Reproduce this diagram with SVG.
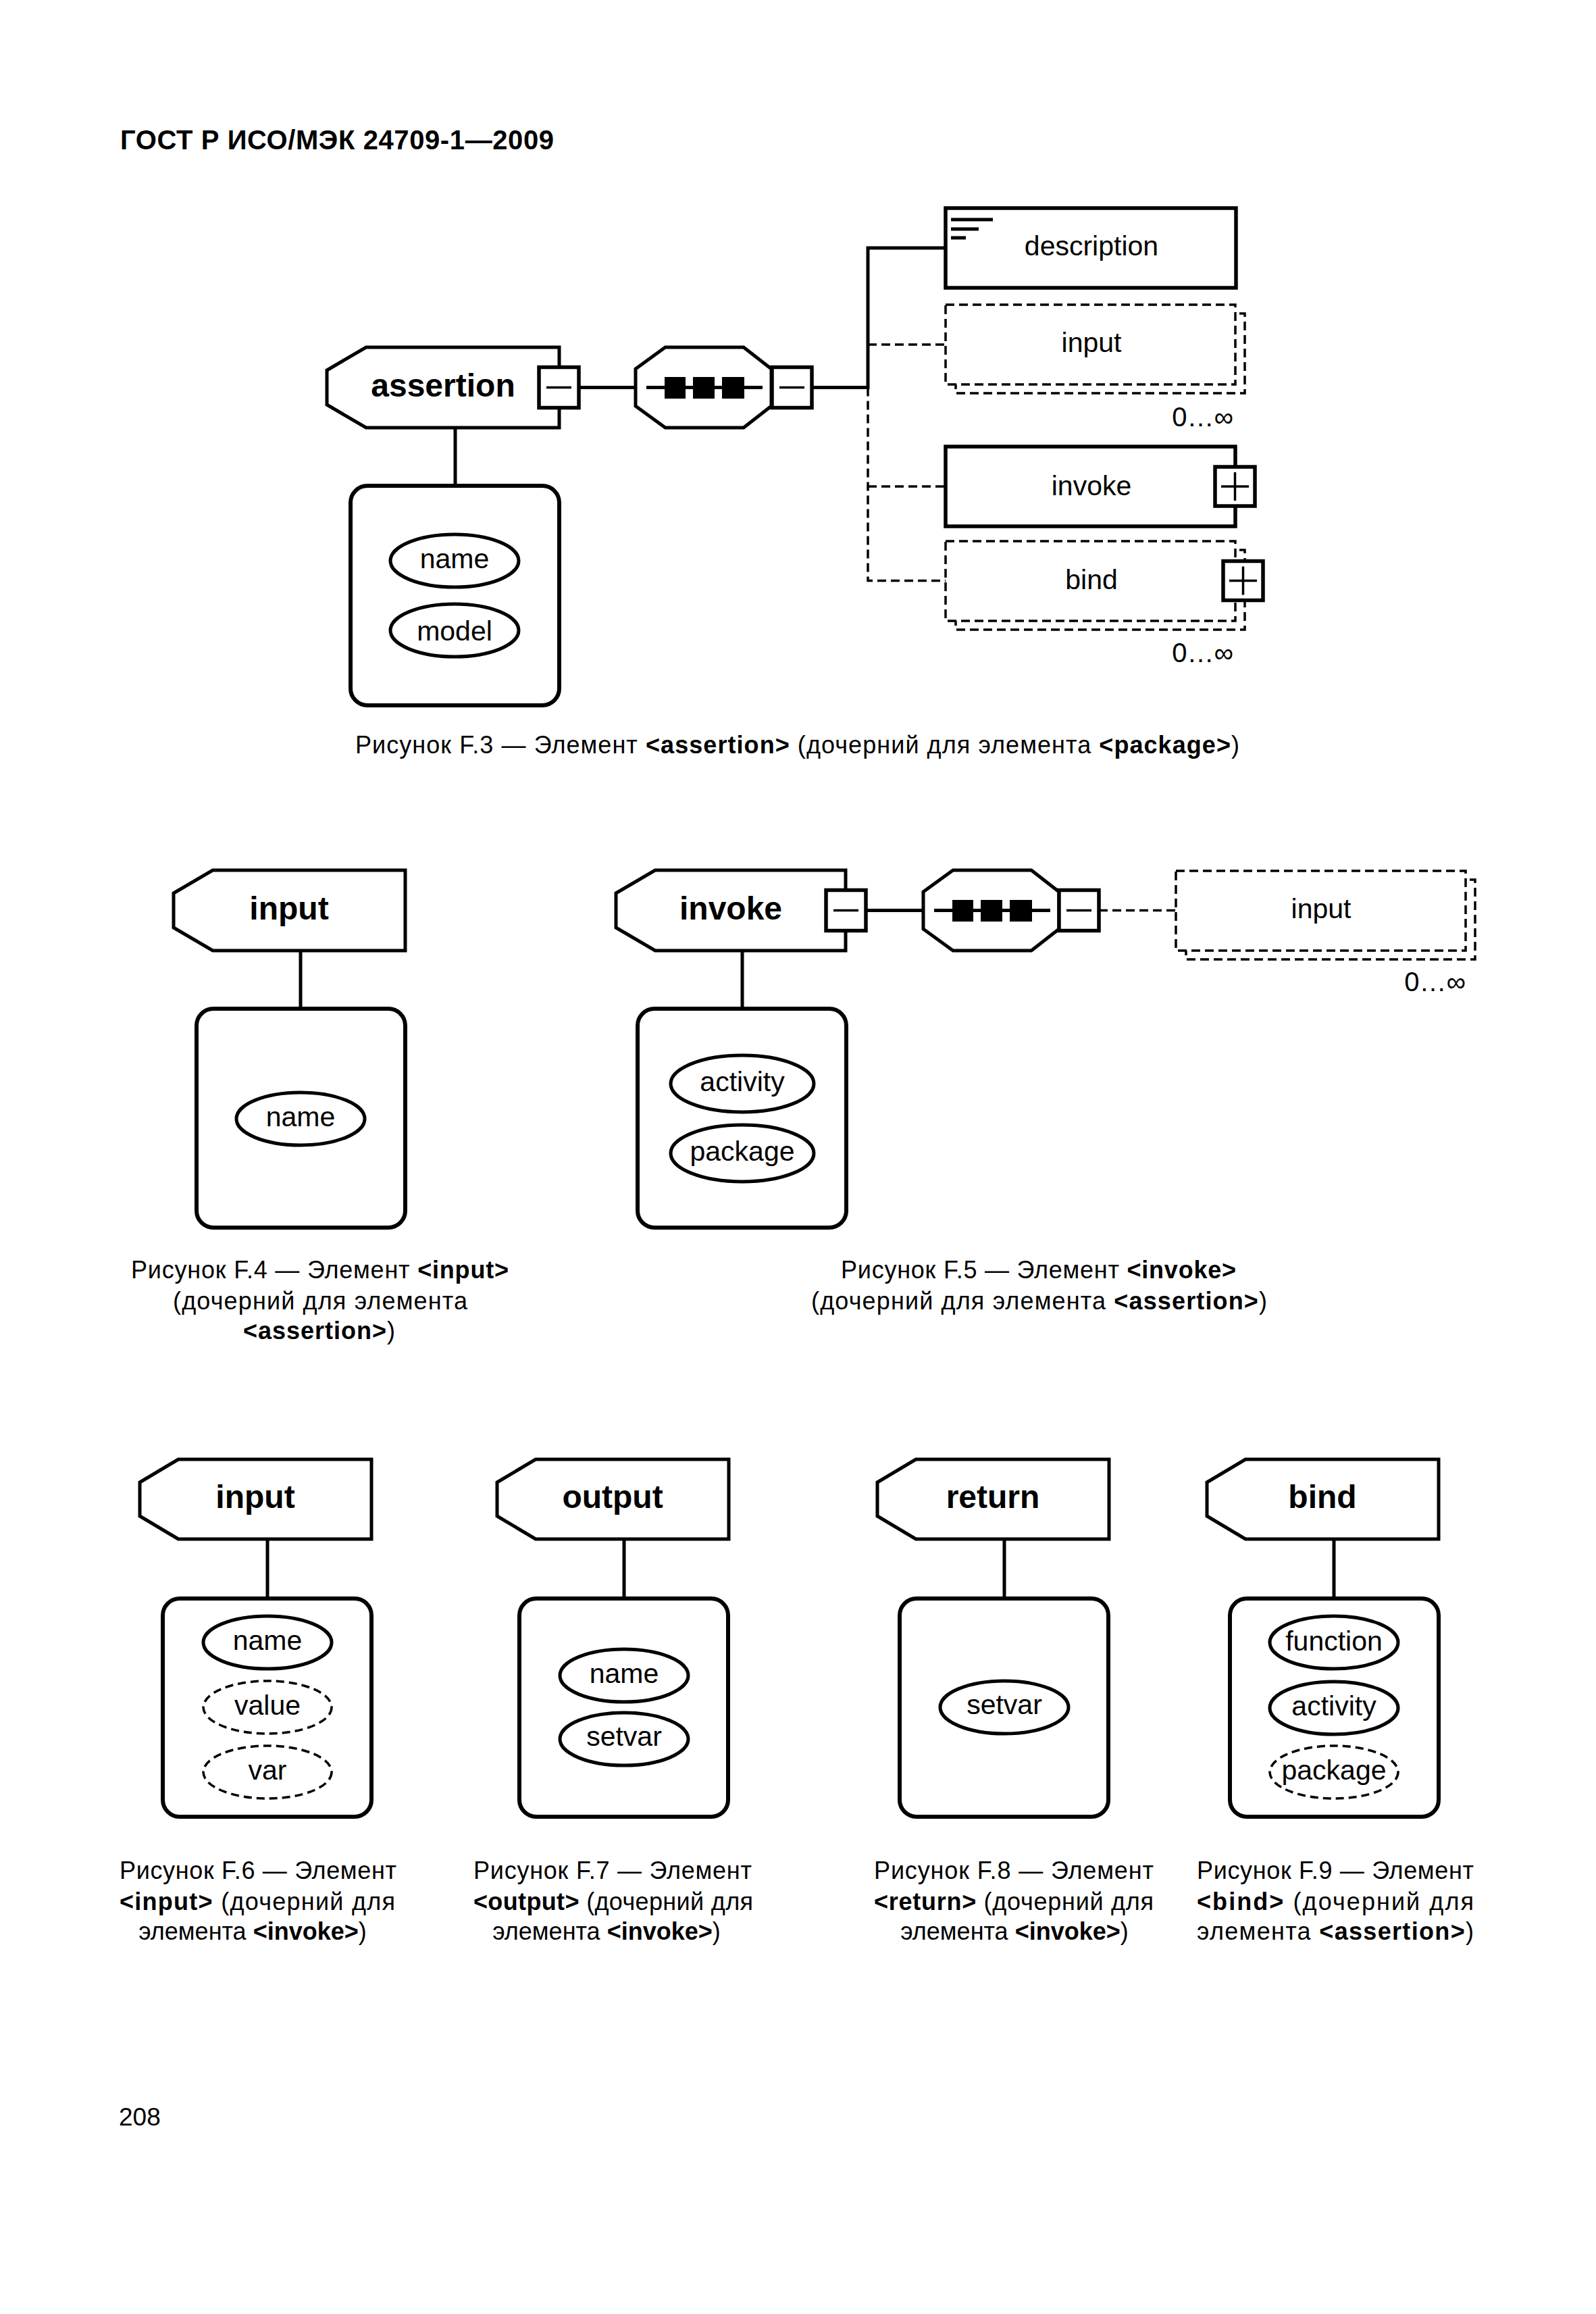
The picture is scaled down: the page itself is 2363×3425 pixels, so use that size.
<svg xmlns="http://www.w3.org/2000/svg" width="2363" height="3425" viewBox="0 0 2363 3425">
<style>
.hdr{fill:#fff;stroke:#000;stroke-width:5;stroke-linejoin:miter}
.rbox{fill:#fff;stroke:#000;stroke-width:6}
.ell{fill:#fff;stroke:#000;stroke-width:5}
.elld{fill:#fff;stroke:#000;stroke-width:3.5;stroke-dasharray:12 7}
.box{fill:#fff;stroke:#000;stroke-width:5.5}
.boxd{fill:#fff;stroke:#000;stroke-width:3.5;stroke-dasharray:13 7}
.ln{fill:none;stroke:#000;stroke-width:5}
.lnd{fill:none;stroke:#000;stroke-width:3.5;stroke-dasharray:13 7}
.thin{fill:none;stroke:#000;stroke-width:3.5}
text{font-family:"Liberation Sans",Arial,"DejaVu Sans",sans-serif;fill:#000}
.th{font-size:48px;font-weight:bold;text-anchor:middle}
.ta{font-size:41px;text-anchor:middle}
.tm{font-size:40px;text-anchor:end}
.tc{font-size:36px}
.b{font-weight:bold}
</style>
<defs>
<g id="oct">
<polygon class="hdr" points="44,0 160,0 201,32 201,87 160,119 44,119 0,87 0,32"/>
<line class="ln" x1="16" y1="59.5" x2="188" y2="59.5" stroke-width="4"/>
<rect x="43" y="44" width="31" height="32" fill="#000"/>
<rect x="85" y="44" width="32" height="32" fill="#000"/>
<rect x="128" y="44" width="33" height="32" fill="#000"/>
</g>
<g id="minus">
<rect class="box" x="0" y="0" width="59" height="60"/>
<line class="thin" x1="11" y1="30" x2="48" y2="30"/>
</g>
<g id="plus">
<rect class="box" x="0" y="0" width="59" height="58"/>
<line class="thin" x1="9" y1="29" x2="50" y2="29" stroke-width="4"/>
<line class="thin" x1="29.5" y1="8" x2="29.5" y2="50" stroke-width="4"/>
</g>
</defs>
<rect x="0" y="0" width="2363" height="3425" fill="#fff"/>

<text x="178" y="221" font-size="40" font-weight="bold" textLength="642">ГОСТ Р ИСО/МЭК 24709-1—2009</text>

<g id="connectors">
<line class="ln" x1="674" y1="633" x2="674" y2="719"/>
<line class="ln" x1="857" y1="573.5" x2="941" y2="573.5"/>
<line class="ln" x1="1202" y1="573.5" x2="1285" y2="573.5"/>
<polyline class="ln" points="1400,367 1285,367 1285,576"/>
<polyline class="lnd" points="1285,573.5 1285,859.5 1400,859.5"/>
<line class="lnd" x1="1285" y1="510" x2="1400" y2="510"/>
<line class="lnd" x1="1285" y1="720" x2="1400" y2="720"/>
<line class="ln" x1="445" y1="1407" x2="445" y2="1493"/>
<line class="ln" x1="1099" y1="1407" x2="1099" y2="1493"/>
<line class="ln" x1="1282" y1="1347.5" x2="1367" y2="1347.5"/>
<line class="lnd" x1="1627" y1="1347.5" x2="1741" y2="1347.5"/>
<line class="ln" x1="396" y1="2278" x2="396" y2="2366"/>
<line class="ln" x1="924" y1="2278" x2="924" y2="2366"/>
<line class="ln" x1="1487" y1="2278" x2="1487" y2="2366"/>
<line class="ln" x1="1975" y1="2278" x2="1975" y2="2366"/>
</g>

<!-- Figure F.3 -->
<g id="f3-assertion">
<polygon class="hdr" points="542,514 828,514 828,633 542,633 484,599 484,548"/>
<text class="th" x="656" y="587">assertion</text>
<use href="#minus" x="798" y="543.5"/>
</g>
<g id="f3-seq">
<use href="#oct" x="941" y="514"/>
<use href="#minus" x="1143" y="543.5"/>
</g>
<g id="f3-attrs">
<rect class="rbox" x="519" y="719" width="309" height="325" rx="25"/>
<ellipse class="ell" cx="673" cy="830" rx="95" ry="39"/>
<text class="ta" x="673" y="841">name</text>
<ellipse class="ell" cx="673" cy="933" rx="95" ry="39"/>
<text class="ta" x="673" y="948">model</text>
</g>
<g id="f3-description">
<rect class="box" x="1400" y="308" width="430" height="118"/>
<line class="ln" x1="1408" y1="325" x2="1470" y2="325" stroke-width="4"/>
<line class="ln" x1="1408" y1="339" x2="1449" y2="339" stroke-width="4"/>
<line class="ln" x1="1408" y1="352" x2="1430" y2="352" stroke-width="4"/>
<text class="ta" x="1616" y="378">description</text>
</g>
<g id="f3-input">
<rect class="boxd" x="1415" y="464" width="428" height="118"/>
<rect class="boxd" x="1400" y="451" width="429" height="118"/>
<text class="ta" x="1616" y="521">input</text>
<text class="tm" x="1826" y="631">0…∞</text>
</g>
<g id="f3-invoke">
<rect class="box" x="1400" y="661" width="429" height="118"/>
<text class="ta" x="1616" y="733">invoke</text>
<use href="#plus" x="1799" y="691"/>
</g>
<g id="f3-bind">
<rect class="boxd" x="1415" y="814" width="428" height="118"/>
<rect class="boxd" x="1400" y="801" width="429" height="118"/>
<text class="ta" x="1616" y="872">bind</text>
<use href="#plus" x="1811" y="830.5"/>
<text class="tm" x="1826" y="980">0…∞</text>
</g>
<text class="tc" x="526" y="1115" textLength="1309">Рисунок F.3 — Элемент <tspan class="b">&lt;assertion&gt;</tspan> (дочерний для элемента <tspan class="b">&lt;package&gt;</tspan>)</text>

<!-- Figure F.4 -->
<g id="f4-input">
<polygon class="hdr" points="315,1288 600,1288 600,1407 315,1407 257,1373 257,1322"/>
<text class="th" x="428" y="1361">input</text>
</g>
<g id="f4-attrs">
<rect class="rbox" x="291" y="1493" width="309" height="324" rx="25"/>
<ellipse class="ell" cx="445" cy="1656" rx="95" ry="39"/>
<text class="ta" x="445" y="1667">name</text>
</g>
<text class="tc" x="194" y="1892" textLength="559">Рисунок F.4 — Элемент <tspan class="b">&lt;input&gt;</tspan></text>
<text class="tc" x="256" y="1938" textLength="436">(дочерний для элемента</text>
<text class="tc" x="360" y="1982" textLength="225"><tspan class="b">&lt;assertion&gt;</tspan>)</text>

<!-- Figure F.5 -->
<g id="f5-invoke">
<polygon class="hdr" points="970,1288 1252,1288 1252,1407 970,1407 912,1373 912,1322"/>
<text class="th" x="1082" y="1361">invoke</text>
<use href="#minus" x="1223" y="1317.5"/>
</g>
<g id="f5-seq">
<use href="#oct" x="1367" y="1288"/>
<use href="#minus" x="1568" y="1317.5"/>
</g>
<g id="f5-input">
<rect class="boxd" x="1756" y="1302" width="428" height="118"/>
<rect class="boxd" x="1741" y="1289" width="429" height="118"/>
<text class="ta" x="1956" y="1359">input</text>
<text class="tm" x="2170" y="1467">0…∞</text>
</g>
<g id="f5-attrs">
<rect class="rbox" x="944" y="1493" width="309" height="324" rx="25"/>
<ellipse class="ell" cx="1099" cy="1604" rx="106" ry="42"/>
<text class="ta" x="1099" y="1615">activity</text>
<ellipse class="ell" cx="1099" cy="1707" rx="106" ry="42"/>
<text class="ta" x="1099" y="1718">package</text>
</g>
<text class="tc" x="1245" y="1892" textLength="585">Рисунок F.5 — Элемент <tspan class="b">&lt;invoke&gt;</tspan></text>
<text class="tc" x="1201" y="1938" textLength="675">(дочерний для элемента <tspan class="b">&lt;assertion&gt;</tspan>)</text>

<!-- Figure F.6 -->
<g id="f6-input">
<polygon class="hdr" points="264,2160 550,2160 550,2278 264,2278 207,2244 207,2194"/>
<text class="th" x="378" y="2232">input</text>
</g>
<g id="f6-attrs">
<rect class="rbox" x="241" y="2366" width="309" height="323" rx="25"/>
<ellipse class="ell" cx="396" cy="2431" rx="95" ry="39"/>
<text class="ta" x="396" y="2442">name</text>
<ellipse class="elld" cx="396" cy="2527" rx="95" ry="39"/>
<text class="ta" x="396" y="2538">value</text>
<ellipse class="elld" cx="396" cy="2623" rx="95" ry="39"/>
<text class="ta" x="396" y="2634">var</text>
</g>
<text class="tc" x="177" y="2781" textLength="410">Рисунок F.6 — Элемент</text>
<text class="tc" x="177" y="2827" textLength="408"><tspan class="b">&lt;input&gt;</tspan>  (дочерний для</text>
<text class="tc" x="374" y="2871" text-anchor="middle">элемента <tspan class="b">&lt;invoke&gt;</tspan>)</text>

<!-- Figure F.7 -->
<g id="f7-output">
<polygon class="hdr" points="793,2160 1079,2160 1079,2278 793,2278 736,2244 736,2194"/>
<text class="th" x="907" y="2232">output</text>
</g>
<g id="f7-attrs">
<rect class="rbox" x="769" y="2366" width="309" height="323" rx="25"/>
<ellipse class="ell" cx="924" cy="2480" rx="95" ry="39"/>
<text class="ta" x="924" y="2491">name</text>
<ellipse class="ell" cx="924" cy="2574" rx="95" ry="39"/>
<text class="ta" x="924" y="2584">setvar</text>
</g>
<text class="tc" x="701" y="2781" textLength="412">Рисунок F.7 — Элемент</text>
<text class="tc" x="701" y="2827" textLength="414"><tspan class="b">&lt;output&gt;</tspan> (дочерний для</text>
<text class="tc" x="898" y="2871" text-anchor="middle">элемента <tspan class="b">&lt;invoke&gt;</tspan>)</text>

<!-- Figure F.8 -->
<g id="f8-return">
<polygon class="hdr" points="1356,2160 1642,2160 1642,2278 1356,2278 1299,2244 1299,2194"/>
<text class="th" x="1470" y="2232">return</text>
</g>
<g id="f8-attrs">
<rect class="rbox" x="1332" y="2366" width="309" height="323" rx="25"/>
<ellipse class="ell" cx="1487" cy="2527" rx="95" ry="39"/>
<text class="ta" x="1487" y="2537">setvar</text>
</g>
<text class="tc" x="1294" y="2781" textLength="414">Рисунок F.8 — Элемент</text>
<text class="tc" x="1294" y="2827" textLength="414"><tspan class="b">&lt;return&gt;</tspan> (дочерний для</text>
<text class="tc" x="1502" y="2871" text-anchor="middle">элемента <tspan class="b">&lt;invoke&gt;</tspan>)</text>

<!-- Figure F.9 -->
<g id="f9-bind">
<polygon class="hdr" points="1844,2160 2130,2160 2130,2278 1844,2278 1787,2244 1787,2194"/>
<text class="th" x="1958" y="2232">bind</text>
</g>
<g id="f9-attrs">
<rect class="rbox" x="1821" y="2366" width="309" height="323" rx="25"/>
<ellipse class="ell" cx="1975" cy="2431" rx="95" ry="39"/>
<text class="ta" x="1975" y="2443">function</text>
<ellipse class="ell" cx="1975" cy="2528" rx="95" ry="39"/>
<text class="ta" x="1975" y="2539">activity</text>
<ellipse class="elld" cx="1975" cy="2623" rx="95" ry="39"/>
<text class="ta" x="1975" y="2634">package</text>
</g>
<text class="tc" x="1772" y="2781" textLength="410">Рисунок F.9 — Элемент</text>
<text class="tc" x="1772" y="2827" textLength="410"><tspan class="b">&lt;bind&gt;</tspan> (дочерний  для</text>
<text class="tc" x="1772" y="2871" textLength="410">элемента  <tspan class="b">&lt;assertion&gt;</tspan>)</text>

<text x="176" y="3146" font-size="37">208</text>
</svg>
